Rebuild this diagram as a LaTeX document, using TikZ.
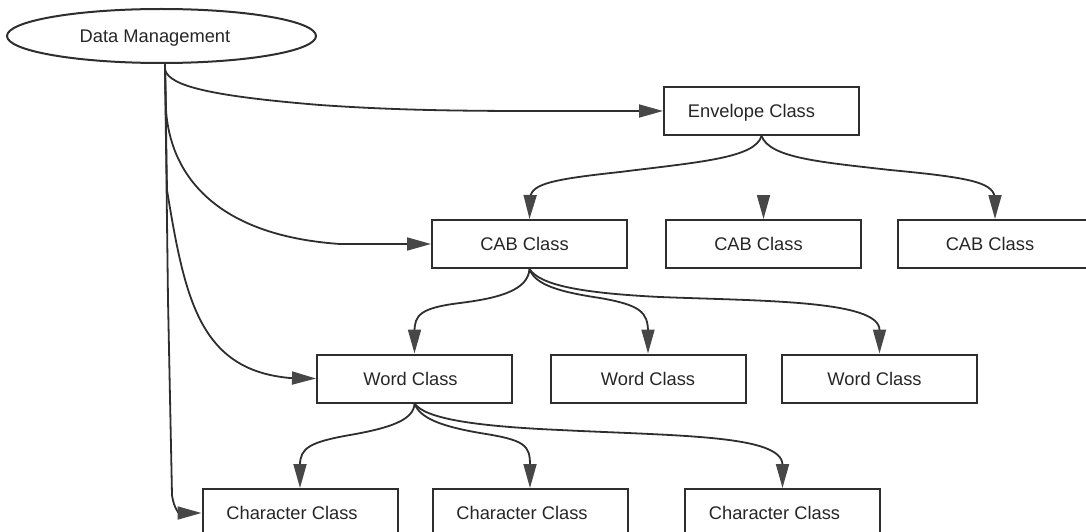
\documentclass[tikz,border=0pt]{standalone}
\usepackage{fontspec}
\setmainfont{Liberation Sans}
\usetikzlibrary{arrows.meta,shapes.geometric}
\definecolor{ink}{HTML}{2E2E2E}
\definecolor{tipgray}{HTML}{474747}
\tikzset{
  cls/.style={draw=ink, line width=2pt, rectangle, inner sep=0pt,
    minimum width=195pt, minimum height=48pt, text height=13.1pt, text depth=0pt,
    font=\fontsize{18.3}{22}\selectfont, text=black!85},
  tshift/.style={execute at begin node={\hspace*{-#1}}},
  conn/.style={draw=ink, line width=1.8pt,
    -{Triangle[length=24pt,width=13pt,fill=tipgray,color=tipgray]}},
}
\begin{document}
\begin{tikzpicture}[x=1pt,y=-1pt]
\useasboundingbox (0,0) rectangle (1086,532);
% nodes
\node[draw=ink, line width=2pt, ellipse, inner sep=0pt, minimum width=309pt, minimum height=54pt,
      text height=13.1pt, text depth=0pt, font=\fontsize{18.3}{22}\selectfont, text=black!85,
      tshift=13pt] (dm) at (161.5,36) {Data Management};
\node[cls, tshift=20pt] (env) at (761.5,111) {Envelope Class};
\node[cls, tshift=10pt] (cab1) at (529.5,244) {CAB Class};
\node[cls, tshift=10pt] (cab2) at (763.5,244) {CAB Class};
\node[cls, tshift=10pt] (cab3) at (995,244) {CAB Class};
\node[cls, tshift=8pt] (word1) at (414.5,378.5) {Word Class};
\node[cls, tshift=0pt] (word2) at (648,378.5) {Word Class};
\node[cls, tshift=10pt] (word3) at (879.5,378.5) {Word Class};
\node[cls, tshift=16pt] (char1) at (300,513) {Character Class};
\node[cls, tshift=16pt] (char2) at (530,513) {Character Class};
\node[cls, tshift=16pt] (char3) at (782.5,513) {Character Class};
\coordinate (c2top) at (763.5,195);
% Data Management connectors
\draw[conn] ([xshift=3.5pt]dm.south) -- (165,70)
  .. controls (170,86) and (210,96) .. (320,105)
  .. controls (420,112) and (500,111) .. (env.west);
\draw[conn] ([xshift=3.5pt]dm.south) -- (166,110)
  .. controls (170,170) and (210,235) .. (340,244) -- (cab1.west);
\draw[conn] ([xshift=3.5pt]dm.south) -- (167,190)
  .. controls (185,300) and (200,370) .. (290,378) -- (word1.west);
\draw[conn] ([xshift=3.5pt]dm.south) -- (168,300) -- (172,495)
  .. controls (174,510) and (180,513) .. (char1.west);
% Envelope to CABs
\draw[conn] (env.south) .. controls (755,158) and (700,162) .. (620,172)
  .. controls (545,180) and (530,185) .. (530,200) -- (cab1.north);
\draw[conn] (env.south) .. controls (770,158) and (820,162) .. (890,170)
  .. controls (975,178) and (995,183) .. (995,200) -- (cab3.north);
\draw[conn] (c2top) -- (cab2.north);
% CAB to Words
\draw[conn] (cab1.south) .. controls (528,290) and (500,298) .. (460,303)
  .. controls (420,308) and (414.5,315) .. (414.5,332) -- (word1.north);
\draw[conn] (cab1.south) .. controls (535,285) and (560,292) .. (600,298)
  .. controls (640,305) and (648,312) .. (648,332) -- (word2.north);
\draw[conn] (cab1.south) .. controls (540,285) and (580,293) .. (660,297)
  .. controls (760,301) and (879.5,300) .. (879.5,330) -- (word3.north);
% Word to Characters
\draw[conn] (word1.south) .. controls (414,420) and (390,428) .. (350,435)
  .. controls (310,442) and (300,448) .. (300,465) -- (char1.north);
\draw[conn] (word1.south) .. controls (420,418) and (440,426) .. (480,433)
  .. controls (525,440) and (530,445) .. (530,465) -- (char2.north);
\draw[conn] (word1.south) .. controls (425,418) and (470,426) .. (560,430)
  .. controls (680,436) and (782.5,435) .. (782.5,465) -- (char3.north);
\end{tikzpicture}
\end{document}
